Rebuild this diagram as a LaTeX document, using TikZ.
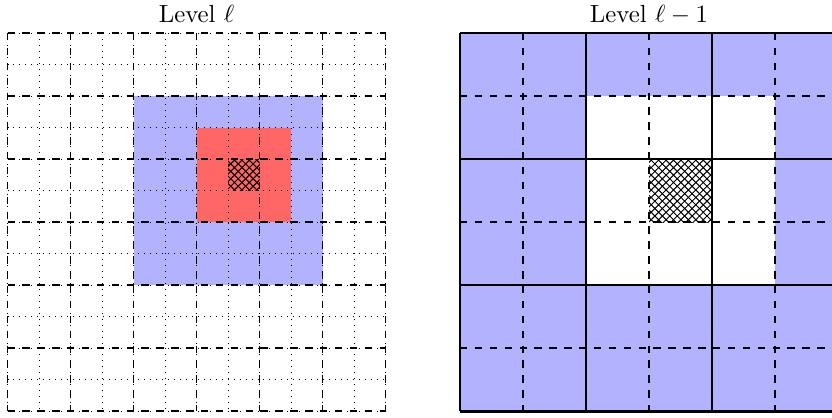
\documentclass[tikz,border=0pt]{standalone}
\usetikzlibrary{patterns}
\begin{document}
\begin{tikzpicture}[x=0.4032pt,y=-0.4032pt,
  fineline/.style={dotted,line width=0.4pt},
  coarseleft/.style={dashed,line width=0.8pt},
  finedashed/.style={dashed,line width=0.8pt},
  coarseright/.style={line width=1.2pt},
  hatchcell/.style={pattern=crosshatch,pattern color=black},
  titletext/.style={anchor=base,inner sep=0pt,font=\normalsize}]
\useasboundingbox (0,0) rectangle (832,417);
\clip (0,0) rectangle (832,417);
% ---- Left: level l
\fill[blue!30] (133.5,96) rectangle (322.5,285);
\fill[red!60] (196.5,127.5) rectangle (291,222);
\fill[hatchcell] (228,159) rectangle (259.5,190.5);
\foreach \i in {0,...,12}{
  \draw[fineline] ({7.5+\i*31.5},33) -- ({7.5+\i*31.5},411);
  \draw[fineline] (7.5,{33+\i*31.5}) -- (385.5,{33+\i*31.5});
}
\foreach \i in {0,2,...,12}{
  \draw[coarseleft] ({7.5+\i*31.5},33) -- ({7.5+\i*31.5},411);
  \draw[coarseleft] (7.5,{33+\i*31.5}) -- (385.5,{33+\i*31.5});
}
\node[titletext] (tl) at (196.5,22) {Level $\ell$};
% ---- Right: level l-1
\fill[blue!30] (460,33) rectangle (838,411);
\fill[white] (586,96) rectangle (775,285);
\fill[hatchcell] (649,159) rectangle (712,222);
\foreach \i in {1,3,5}{
  \draw[finedashed] ({460+\i*63},33) -- ({460+\i*63},411);
  \draw[finedashed] (460,{33+\i*63}) -- (838,{33+\i*63});
}
\foreach \i in {0,2,4,6}{
  \draw[coarseright] ({460+\i*63},33) -- ({460+\i*63},411);
  \draw[coarseright] (460,{33+\i*63}) -- (838,{33+\i*63});
}
\node[titletext] (tr) at (649,22) {Level $\ell-1$};
\end{tikzpicture}
\end{document}
